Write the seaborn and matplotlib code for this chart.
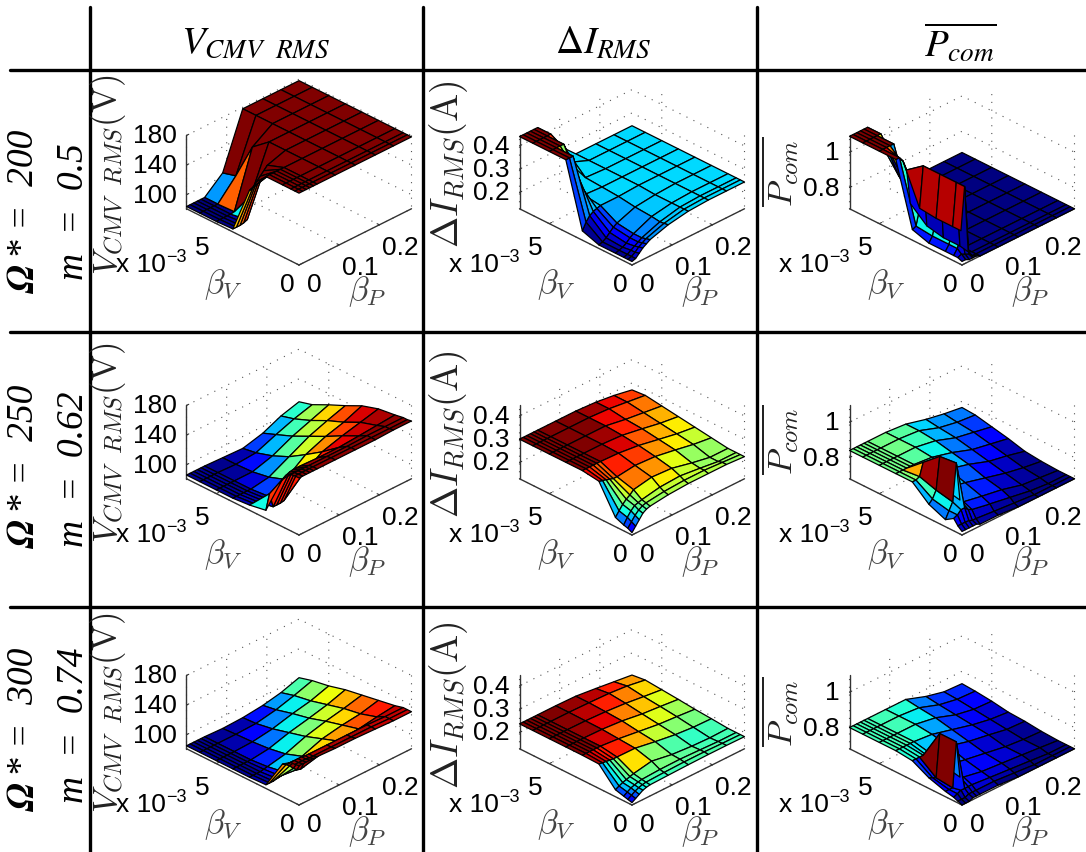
import numpy as np
import matplotlib
matplotlib.use('Agg')
import matplotlib.pyplot as plt
import seaborn as sns
from matplotlib.colors import Normalize
from matplotlib.lines import Line2D
from mpl_toolkits.mplot3d import proj3d

W, H = 1086, 853

# grid of the sweep
beta_p = [0, .009, .018, .027, .036, .045, .09, .14, .19, .235, .28]
beta_v = [0, .00025, .0005, .001, .002, .003, .004, .005, .006, .0068]

# one row per beta_v, one column per beta_p
vcmv_200 = [
    [178, 178, 178, 178, 178, 178, 178, 178, 178, 178, 178],
    [178, 178, 178, 178, 178, 178, 178, 178, 178, 178, 178],
    [178, 178, 178, 178, 178, 178, 178, 178, 178, 178, 178],
    [178, 178, 178, 178, 178, 178, 178, 178, 178, 178, 178],
    [178, 178, 178, 178, 178, 178, 178, 178, 178, 178, 178],
    [148, 150, 155, 160, 165, 170, 178, 178, 178, 178, 178],
    [85, 85, 85, 86, 88, 118, 178, 178, 178, 178, 178],
    [84, 84, 84, 84, 84, 85, 160, 178, 178, 178, 178],
    [84, 84, 84, 84, 84, 84, 110, 178, 178, 178, 178],
    [84, 84, 84, 84, 84, 84, 105, 178, 178, 178, 178],
]
vcmv_250 = [
    [158, 158, 158, 158, 158, 158, 158, 158, 158, 159, 159],
    [158, 158, 158, 158, 158, 158, 158, 158, 158, 158, 158],
    [157, 157, 157, 157, 157, 157, 157, 157, 158, 158, 158],
    [145, 148, 150, 151, 151, 151, 150, 150, 152, 154, 156],
    [92, 112, 92, 92, 92, 93, 115, 133, 141, 147, 153],
    [88, 88, 88, 88, 88, 88, 98, 118, 129, 136, 146],
    [86, 86, 86, 86, 86, 86, 90, 104, 118, 127, 135],
    [86, 86, 86, 86, 86, 86, 86, 94, 107, 116, 125],
    [86, 86, 86, 86, 86, 86, 85, 87, 98, 107, 114],
    [86, 86, 86, 86, 86, 86, 85, 84, 91, 102, 109],
]
vcmv_300 = [
    [134, 134, 134, 134, 134, 134, 133, 133, 132, 131, 131],
    [133, 133, 133, 133, 132, 132, 132, 132, 132, 131, 131],
    [133, 133, 133, 133, 132, 132, 132, 132, 132, 131, 131],
    [125, 122, 118, 112, 108, 106, 112, 118, 121, 125, 128],
    [86, 86, 86, 87, 88, 91, 100, 110, 115, 118, 124],
    [85, 85, 85, 85, 86, 87, 92, 102, 109, 114, 120],
    [85, 85, 85, 85, 85, 85, 88, 96, 102, 108, 116],
    [85, 85, 85, 85, 85, 85, 86, 90, 97, 102, 110],
    [85, 85, 85, 85, 85, 85, 85, 86, 91, 98, 106],
    [85, 85, 85, 85, 85, 85, 84, 85, 88, 93, 101],
]
dirms_200 = [
    [.145, .15, .165, .18, .19, .20, .225, .24, .245, .245, .245],
    [.145, .15, .16, .175, .185, .195, .222, .24, .245, .245, .245],
    [.145, .15, .16, .17, .18, .19, .22, .24, .245, .245, .245],
    [.145, .15, .155, .165, .18, .19, .225, .24, .245, .245, .245],
    [.145, .15, .16, .175, .19, .20, .23, .24, .245, .245, .245],
    [.17, .20, .22, .23, .235, .24, .24, .245, .245, .245, .245],
    [.44, .44, .44, .36, .30, .25, .245, .245, .245, .245, .245],
    [.44, .44, .44, .44, .44, .40, .25, .245, .245, .245, .245],
    [.44, .44, .44, .44, .44, .44, .28, .245, .245, .245, .245],
    [.44, .44, .44, .44, .44, .44, .33, .245, .245, .245, .245],
]
dirms_250 = [
    [.14, .16, .18, .20, .21, .215, .225, .23, .23, .23, .225],
    [.15, .17, .19, .205, .215, .22, .23, .235, .235, .23, .225],
    [.155, .18, .20, .215, .22, .225, .24, .245, .235, .225, .225],
    [.17, .19, .21, .225, .235, .25, .265, .26, .24, .225, .225],
    [.29, .285, .28, .275, .27, .27, .28, .275, .26, .245, .235],
    [.30, .30, .30, .30, .30, .30, .297, .287, .27, .255, .245],
    [.30, .30, .30, .30, .30, .30, .30, .295, .28, .265, .255],
    [.30, .30, .30, .30, .30, .30, .30, .30, .285, .275, .265],
    [.30, .30, .30, .30, .30, .30, .30, .30, .295, .285, .275],
    [.30, .30, .30, .30, .30, .30, .30, .30, .295, .285, .27],
]
dirms_300 = [
    [.14, .15, .16, .17, .175, .178, .18, .182, .183, .183, .182],
    [.145, .155, .165, .172, .177, .18, .183, .185, .185, .183, .182],
    [.15, .16, .17, .175, .18, .183, .187, .188, .185, .182, .182],
    [.16, .168, .175, .18, .185, .19, .205, .19, .183, .18, .182],
    [.235, .232, .23, .228, .226, .226, .225, .21, .197, .19, .188],
    [.237, .237, .237, .237, .237, .237, .23, .218, .206, .20, .193],
    [.237, .237, .237, .237, .237, .237, .235, .228, .215, .208, .20],
    [.237, .237, .237, .237, .237, .237, .236, .232, .225, .215, .206],
    [.237, .237, .237, .237, .237, .237, .237, .235, .232, .225, .212],
    [.237, .237, .237, .237, .237, .237, .237, .235, .225, .215, .205],
]
pcom_200 = [
    [.70, .70, .69, .69, .69, .68, .68, .68, .68, .68, .68],
    [.71, .72, .71, .70, .68, .68, .68, .68, .68, .68, .68],
    [.71, .74, .83, 1.07, .69, .68, .68, .68, .68, .68, .68],
    [.71, .74, .83, 1.07, .70, .68, .68, .68, .68, .68, .68],
    [.71, .74, .83, 1.07, .70, .68, .68, .68, .68, .68, .68],
    [.74, .75, .84, 1.07, .72, .68, .68, .68, .68, .68, .68],
    [1.09, 1.09, 1.06, 1.00, .80, .70, .68, .68, .68, .68, .68],
    [1.09, 1.09, 1.09, 1.09, 1.09, .95, .69, .68, .68, .68, .68],
    [1.09, 1.09, 1.09, 1.09, 1.09, 1.09, .80, .68, .68, .68, .68],
    [1.09, 1.09, 1.09, 1.09, 1.09, 1.09, .90, .68, .68, .68, .68],
]
pcom_250 = [
    [.70, .70, .70, .70, .70, .69, .69, .68, .68, .68, .68],
    [.72, .72, .72, .72, .71, .71, .70, .69, .68, .68, .68],
    [.75, .76, .78, .78, .76, .75, .73, .71, .69, .68, .68],
    [.72, .76, .80, 1.01, .79, .77, .75, .73, .70, .69, .68],
    [.76, .78, .82, 1.00, .81, .80, .78, .75, .72, .70, .685],
    [.84, .84, .85, .92, .84, .83, .81, .78, .74, .72, .695],
    [.84, .84, .84, .84, .84, .84, .83, .80, .76, .74, .72],
    [.84, .84, .84, .84, .84, .84, .84, .82, .78, .76, .74],
    [.84, .84, .84, .84, .84, .84, .84, .83, .79, .77, .76],
    [.84, .84, .84, .84, .84, .84, .84, .83, .80, .78, .765],
]
pcom_300 = [
    [.68, .68, .68, .69, .69, .69, .69, .68, .68, .68, .68],
    [.69, .69, .69, .70, .70, .70, .70, .69, .68, .68, .68],
    [.70, .71, .72, .72, .72, .72, .71, .70, .69, .68, .68],
    [.71, .71, .71, .96, .75, .74, .72, .71, .70, .69, .68],
    [.74, .73, .72, .96, .77, .76, .74, .72, .70, .69, .685],
    [.79, .79, .79, .79, .78, .78, .77, .74, .72, .70, .695],
    [.80, .80, .80, .80, .80, .80, .79, .76, .73, .71, .70],
    [.80, .80, .80, .80, .80, .80, .80, .78, .74, .72, .715],
    [.80, .80, .80, .80, .80, .80, .80, .79, .75, .73, .725],
    [.80, .80, .80, .80, .80, .80, .80, .80, .76, .735, .73],
]
surfaces = [[vcmv_200, dirms_200, pcom_200],
            [vcmv_250, dirms_250, pcom_250],
            [vcmv_300, dirms_300, pcom_300]]

zlims = [(81, 180), (.13, .445), (.68, 1.095)]
zticks = [[100, 140, 180], [.2, .3, .4], [.8, 1]]
zticklabels = [['100', '140', '180'], ['0.2', '0.3', '0.4'], ['0.8', '1']]
ptick_vals = [0, .1, .2]
ptick_labels = ['0', '0.1', '0.2']
vtick_vals = [0, .005]
vtick_labels = ['0', '5']

column_titles = [r'$V_{CMV\ \ RMS}$', r'$\Delta I_{RMS}$', r'$\overline{P_{com}}$']
zlabels = [r'$V_{CMV\ \ RMS}(\mathrm{V})$', r'$\Delta I_{RMS}(\mathrm{A})$', r'$\overline{P_{com}}$']
speed_labels = ['200', '250', '300']
mod_labels = ['0.5', '0.62', '0.74']

sns.set_theme(style='white', rc={
    'grid.color': '#555555', 'grid.linewidth': 0.8, 'grid.linestyle': (0, (1, 6)),
    'mathtext.fontset': 'cm',
})
plt.rcParams['font.family'] = ['Liberation Sans', 'DejaVu Sans']
jet = matplotlib.colormaps['jet']

fig = plt.figure(figsize=(W / 100, H / 100), dpi=100)


def fx(x):
    return x / W


def fy(y):
    return 1 - y / H


def corner(ax, x, y, z):
    # pixel position of a data point, y measured from the top
    tx, ty, _ = proj3d.proj_transform(x, y, z, ax.get_proj())
    px, py = ax.transData.transform((tx, ty))
    return px, H - py


front_x = [299, 632, 962]
front_y = [266, 536, 806]
span = 225
zbottom_label = [[275, 543, 813], [248, 518, 789], [207, 475, 747]]
zlabel_x = [108, 449, 780]

xmax, ymax = beta_p[-1], beta_v[-1]
xx, yy = np.meshgrid(beta_p[::-1], beta_v)

for r in range(3):
    for c in range(3):
        ax = fig.add_axes([0.3, 0.3, 400 / W, 400 / H], projection='3d')
        ax.patch.set_alpha(0)
        ax.computed_zorder = False
        ax.set_proj_type('ortho')
        ax.view_init(elev=30, azim=-135)
        ax.set_box_aspect((158.4, 158.4, 84.3))
        ax.set_xlim(0, xmax)
        ax.set_ylim(0, ymax)
        z0, z1 = zlims[c]
        ax.set_zlim(z0, z1)

        # line the box up with the cell
        lx, _ = corner(ax, 0, ymax, z0)
        rx, _ = corner(ax, xmax, 0, z0)
        side = 400 * span / (rx - lx)
        ax.set_position([0.3, 0.3, side / W, side / H])
        px, py = corner(ax, 0, 0, z0)
        x_left = 0.3 * W + front_x[c] - px
        y_bot = 0.3 * H - (front_y[r] - py)
        ax.set_position([x_left / W, y_bot / H, side / W, side / H])

        ax.set_xticks(ptick_vals)
        ax.set_yticks(vtick_vals)
        ax.set_zticks(zticks[c])
        ax.set_xticklabels([])
        ax.set_yticklabels([])
        ax.set_zticklabels([])
        ax.grid(True)
        for axis in (ax.xaxis, ax.yaxis, ax.zaxis):
            axis.set_pane_color((1, 1, 1, 0))
            axis.pane.set_edgecolor('none')
            axis.line.set_color('none')
            axis._axinfo['tick'].update(inward_factor=0, outward_factor=0)

        # axis lines on the open edges
        ax.plot([0, xmax], [0, 0], [z0, z0], color='#333333', lw=1, zorder=1)
        ax.plot([0, 0], [0, ymax], [z0, z0], color='#333333', lw=1, zorder=1)
        ax.plot([0, 0], [ymax, ymax], [z0, z1], color='#333333', lw=1, zorder=1)
        for t in ptick_vals:
            ax.plot([t, t], [0, .02 * ymax], [z0, z0], color='#333333', lw=.8, zorder=1)
        for t in vtick_vals:
            ax.plot([0, .02 * xmax], [t, t], [z0, z0], color='#333333', lw=.8, zorder=1)
        for t in zticks[c]:
            ax.plot([0, .02 * xmax], [ymax, ymax], [t, t], color='#333333', lw=.8, zorder=1)

        zz = np.array(surfaces[r][c])[:, ::-1]
        colors = jet(Normalize(zz.min(), zz.max())(zz))
        surf = ax.plot_surface(xx, yy, zz, rstride=1, cstride=1, facecolors=colors, shade=False,
                               edgecolor='black', linewidth=.9, antialiased=True, zorder=3)
        # paint by farthest corner so the back of the ridges stays hidden
        surf.set_zsort('min')

        # tick labels
        for t, s in zip(zticks[c], zticklabels[c]):
            px, py = corner(ax, 0, ymax, t)
            fig.text(fx(px - 10), fy(py), s, ha='right', va='center', fontsize=19, color='black')
        for t, s in zip(ptick_vals, ptick_labels):
            px, py = corner(ax, t, 0, z0)
            off = (15, 19) if t == 0 else (21, 22)
            fig.text(fx(px + off[0]), fy(py + off[1]), s, ha='center', va='center', fontsize=19, color='black')
        for t, s in zip(vtick_vals, vtick_labels):
            px, py = corner(ax, 0, t, z0)
            off = (-12, 19) if t == 0 else (-14, 23)
            fig.text(fx(px + off[0]), fy(py + off[1]), s, ha='center', va='center', fontsize=19, color='black')
        px, py = corner(ax, 0, ymax, z0)
        fig.text(fx(px - 21), fy(py + 55), 'x 10', ha='right', va='center', fontsize=19, color='black')
        fig.text(fx(px - 20), fy(py + 48), '\u22123', ha='left', va='center', fontsize=13, color='black')

        # axis names
        fig.text(fx(front_x[c] - 76), fy(front_y[r] + 19), r'$\beta_V$', ha='center', va='center',
                 fontsize=24, color='#444444')
        fig.text(fx(front_x[c] + 68), fy(front_y[r] + 26), r'$\beta_P$', ha='center', va='center',
                 fontsize=24, color='#444444')
        fig.text(fx(zlabel_x[c]), fy(zbottom_label[c][r]), zlabels[c], rotation=90, ha='center',
                 va='bottom', fontsize=[25, 27, 25][c], color='#222222')

# table rules
for x in [90, 423, 757]:
    fig.add_artist(Line2D([fx(x), fx(x)], [fy(8), fy(853)], color='black', lw=2.4))
for y in [71, 333, 608]:
    fig.add_artist(Line2D([fx(10), fx(1086)], [fy(y), fy(y)], color='black', lw=2.4))

# column heads
for x, s in zip([256, 603, 960], column_titles):
    fig.text(fx(x), fy(43), s, ha='center', va='center', fontsize=28, color='black', math_fontfamily='stix')

# row heads
omega_bottom = [295, 550, 813]
mod_bottom = [280, 547, 803]
for i in range(3):
    fig.text(fx(24), fy(omega_bottom[i]), r'$\mathbfit{\Omega}$', rotation=90, ha='center', va='bottom',
             fontsize=27, color='black', math_fontfamily='stix')
    fig.text(fx(24), fy(omega_bottom[i] - 37), '* =  ' + speed_labels[i], rotation=90, ha='center',
             va='bottom', fontsize=27, color='black', family='Liberation Serif', style='italic')
    fig.text(fx(74), fy(mod_bottom[i]), 'm  =  ' + mod_labels[i], rotation=90, ha='center',
             va='bottom', fontsize=27, color='black', family='Liberation Serif', style='italic')

fig.savefig('out.png', dpi=100)
